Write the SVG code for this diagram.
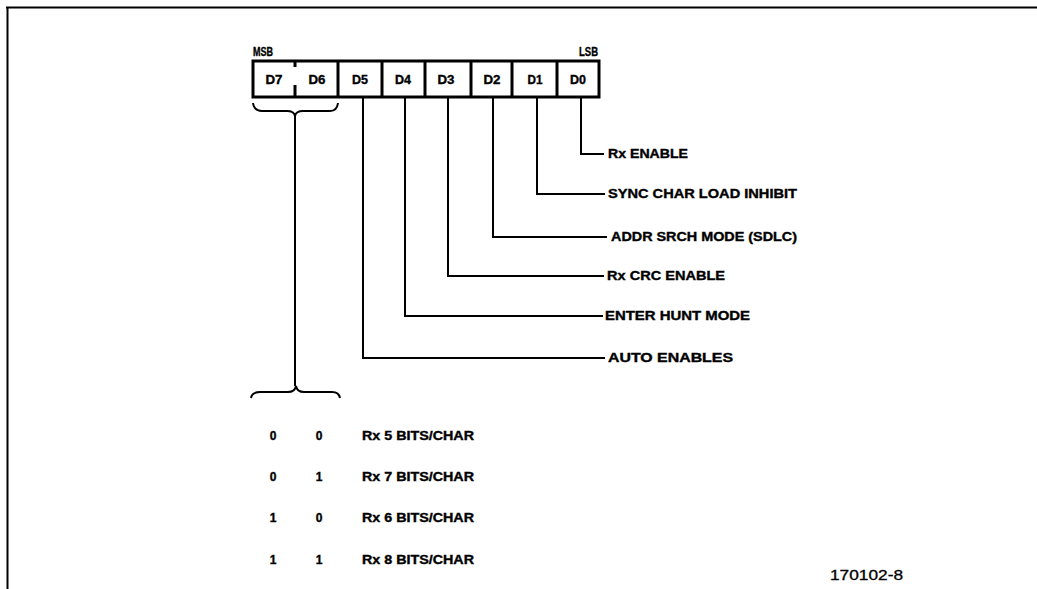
<svg xmlns="http://www.w3.org/2000/svg" width="1037" height="589" viewBox="0 0 1037 589">
<style>
.t{font-family:"Liberation Sans",Arial,sans-serif;font-weight:bold;font-size:12px;fill:#000;stroke:#000;stroke-width:0.35}
.c{text-anchor:middle}
.ln{fill:none;stroke:#000;stroke-width:2}
.bx{fill:none;stroke:#000;stroke-width:3}
</style>
<rect width="1037" height="589" fill="#fff"/>
<g id="frame">
<path class="ln" d="M6 7.5H1037M7.5 7V589"/>
</g>
<g id="register">
<text class="t" x="253" y="56" textLength="20" lengthAdjust="spacingAndGlyphs">MSB</text>
<text class="t" x="579" y="56" textLength="19" lengthAdjust="spacingAndGlyphs">LSB</text>
<rect class="bx" x="253" y="61" width="346" height="36"/>
<path class="bx" d="M295 61V67M295 85V97M338 61V97M382 61V97M425 61V97M471 61V97M512 61V97M557 61V97"/>
<text class="t c" x="274" y="84" textLength="17" lengthAdjust="spacingAndGlyphs">D7</text>
<text class="t c" x="317" y="84" textLength="17" lengthAdjust="spacingAndGlyphs">D6</text>
<text class="t c" x="360" y="84" textLength="16" lengthAdjust="spacingAndGlyphs">D5</text>
<text class="t c" x="403" y="84" textLength="16" lengthAdjust="spacingAndGlyphs">D4</text>
<text class="t c" x="446" y="84" textLength="17" lengthAdjust="spacingAndGlyphs">D3</text>
<text class="t c" x="492" y="84" textLength="17" lengthAdjust="spacingAndGlyphs">D2</text>
<text class="t c" x="535" y="84" textLength="15" lengthAdjust="spacingAndGlyphs">D1</text>
<text class="t c" x="578" y="84" textLength="16" lengthAdjust="spacingAndGlyphs">D0</text>
</g>
<g id="connectors">
<path class="ln" d="M581 98V154H604"/>
<path class="ln" d="M537 98V194H605"/>
<path class="ln" d="M493 98V237H607"/>
<path class="ln" d="M448 98V276H604"/>
<path class="ln" d="M405 98V316H603"/>
<path class="ln" d="M363 98V358H605"/>
<path class="ln" d="M253 103Q254 111 262 111H287Q294 111 295 116Q296 111 303 111H330Q337 111 338 103"/>
<path class="ln" d="M295 116V386"/>
<path class="ln" d="M251 398Q252 392 260 392H288Q295 392 296 386Q297 392 304 392H332Q339 392 340 398"/>
</g>
<g id="labels">
<text class="t" x="608" y="158" textLength="80" lengthAdjust="spacingAndGlyphs">Rx ENABLE</text>
<text class="t" x="608" y="198" textLength="189" lengthAdjust="spacingAndGlyphs">SYNC CHAR LOAD INHIBIT</text>
<text class="t" x="611" y="241" textLength="186" lengthAdjust="spacingAndGlyphs">ADDR SRCH MODE (SDLC)</text>
<text class="t" x="607" y="280" textLength="118" lengthAdjust="spacingAndGlyphs">Rx CRC ENABLE</text>
<text class="t" x="605" y="320" textLength="145" lengthAdjust="spacingAndGlyphs">ENTER HUNT MODE</text>
<text class="t" x="608" y="362" textLength="125" lengthAdjust="spacingAndGlyphs">AUTO ENABLES</text>
</g>
<g id="table">
<text class="t c" x="273" y="440">0</text><text class="t c" x="319" y="440">0</text>
<text class="t" x="362" y="440" textLength="112" lengthAdjust="spacingAndGlyphs">Rx 5 BITS/CHAR</text>
<text class="t c" x="273" y="481">0</text><text class="t c" x="319" y="481">1</text>
<text class="t" x="362" y="481" textLength="112" lengthAdjust="spacingAndGlyphs">Rx 7 BITS/CHAR</text>
<text class="t c" x="273" y="522">1</text><text class="t c" x="319" y="522">0</text>
<text class="t" x="362" y="522" textLength="112" lengthAdjust="spacingAndGlyphs">Rx 6 BITS/CHAR</text>
<text class="t c" x="273" y="564">1</text><text class="t c" x="319" y="564">1</text>
<text class="t" x="362" y="564" textLength="112" lengthAdjust="spacingAndGlyphs">Rx 8 BITS/CHAR</text>
</g>
<g id="figno">
<text x="830" y="580" textLength="73" lengthAdjust="spacingAndGlyphs" style="font-family:'Liberation Sans',Arial,sans-serif;font-size:14px;stroke:#000;stroke-width:0.3">170102-8</text>
</g>
</svg>
